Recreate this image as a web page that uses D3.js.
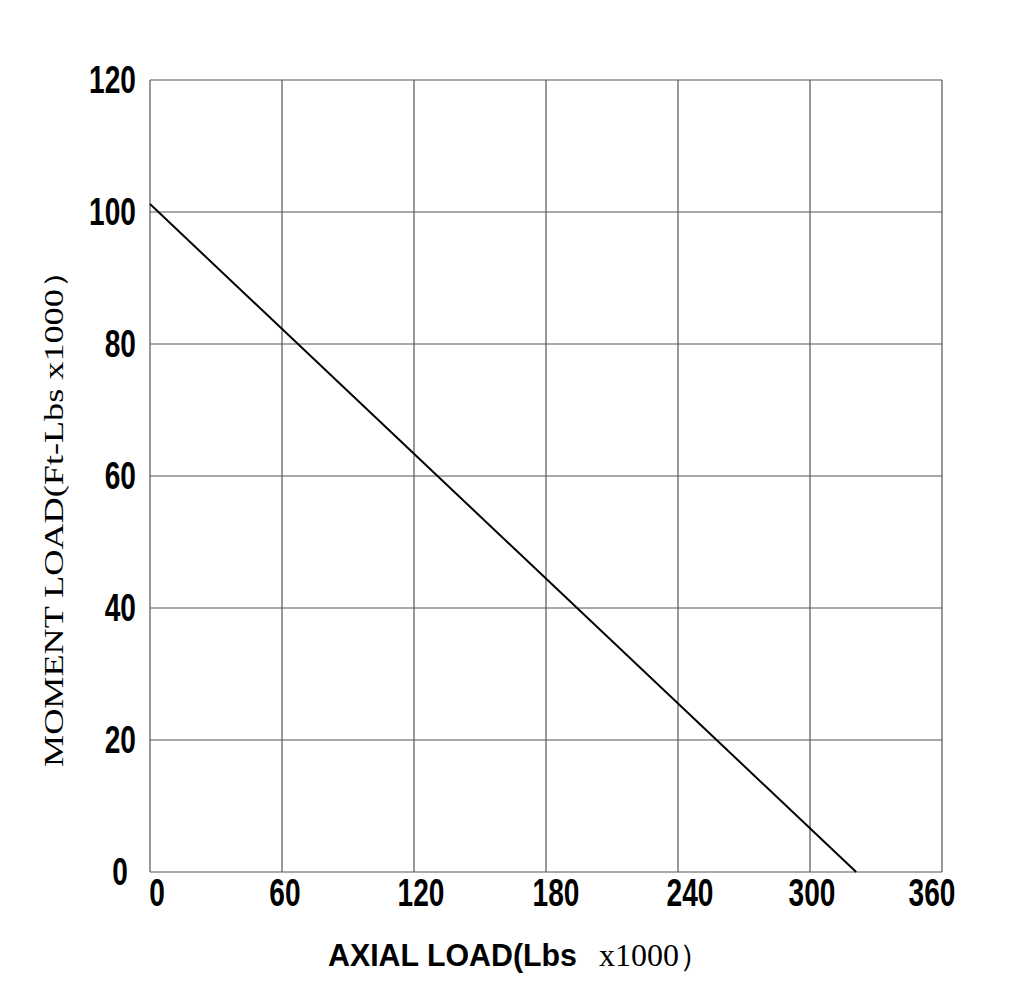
<!DOCTYPE html>
<html><head><meta charset="utf-8">
<script src="https://cdn.jsdelivr.net/npm/d3@7/dist/d3.min.js"></script>
<style>body{margin:0;background:#fff}</style>
</head><body>
<svg id="c" width="1026" height="996"></svg>
<script>
const xTicks = [0, 60, 120, 180, 240, 300, 360];
const yTicks = [0, 20, 40, 60, 80, 100, 120];
const axialLoad = [0, 321];
const momentLoad = [101.2, 0];
const xTitleBold = "AXIAL LOAD(Lbs";
const xTitleSerif = "x1000）";
const yTitle = "MOMENT LOAD(Ft-Lbs x1000）";

const svg = d3.select("#c");
const m = {l:150, t:80, r:942, b:872};
const x = d3.scaleLinear().domain([0,360]).range([m.l, m.r]);
const y = d3.scaleLinear().domain([0,120]).range([m.b, m.t]);
const sans = "'Liberation Sans',Arial,sans-serif";
const serif = "'Liberation Serif','DejaVu Serif',serif";
const sx = 0.74;

const g = svg.append("g");
g.selectAll("line.v").data(xTicks).join("line")
  .attr("x1", d=>x(d)).attr("x2", d=>x(d)).attr("y1", m.t).attr("y2", m.b)
  .attr("stroke", "#555").attr("stroke-width", 1.2);
g.selectAll("line.h").data(yTicks).join("line")
  .attr("y1", d=>y(d)).attr("y2", d=>y(d)).attr("x1", m.l).attr("x2", m.r)
  .attr("stroke", "#555").attr("stroke-width", 1.2);

const line = d3.line().x(d=>x(d[0])).y(d=>y(d[1]));
svg.append("path").datum(axialLoad.map((a,i)=>[a, momentLoad[i]]))
  .attr("d", line).attr("fill","none").attr("stroke","#000").attr("stroke-width",2);

const xOff = [7, 3, 7, 10, 12, 2, -10];
const yOffX = [8, 0, 0, 0, 0, 0, 0];
svg.selectAll("text.xt").data(xTicks).join("text")
  .attr("transform", (d,i)=>`translate(${x(d)+xOff[i]},${m.b+34}) scale(${sx},1)`)
  .attr("text-anchor","middle")
  .style("font-family", sans).style("font-weight","bold").style("font-size","38px")
  .text(d=>d);
svg.selectAll("text.yt").data(yTicks).join("text")
  .attr("transform", (d,i)=>`translate(${136 - yOffX[i]},${y(d)+13}) scale(${sx},1)`)
  .attr("text-anchor","end")
  .style("font-family", sans).style("font-weight","bold").style("font-size","38px")
  .text(d=>d);

svg.append("text")
  .attr("x", 328).attr("y", 966)
  .attr("textLength", 249).attr("lengthAdjust","spacingAndGlyphs")
  .style("font-family", sans).style("font-weight","bold").style("font-size","32px")
  .text(xTitleBold);
svg.append("text")
  .attr("x", 599).attr("y", 966)
  .attr("textLength", 112).attr("lengthAdjust","spacingAndGlyphs")
  .style("font-family", serif).style("font-size","31px")
  .text(xTitleSerif);

svg.append("text")
  .attr("transform","translate(63,510) rotate(-90)")
  .attr("text-anchor","middle")
  .attr("textLength", 514).attr("lengthAdjust","spacingAndGlyphs")
  .style("font-family", serif).style("font-size","27px")
  .text(yTitle);
</script>
</body></html>
